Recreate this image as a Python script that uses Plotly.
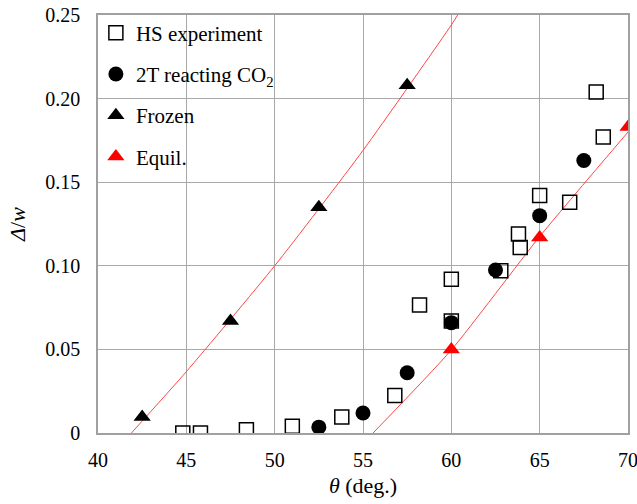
import plotly.graph_objects as go

# Data
hs_theta = [44.8, 45.8, 48.4, 51.0, 53.8, 56.8, 58.2, 60.0, 60.0, 62.8, 63.8, 63.9, 65.0, 66.7, 68.2, 68.6]
hs_delta = [0.0, 0.0, 0.002, 0.004, 0.0095, 0.0225, 0.0765, 0.092, 0.067, 0.097, 0.119, 0.111, 0.142, 0.138, 0.204, 0.177]

tt_theta = [52.5, 55.0, 57.5, 60.0, 62.5, 65.0, 67.5]
tt_delta = [0.0035, 0.012, 0.036, 0.066, 0.0975, 0.130, 0.163]

frozen_theta = [42.5, 47.5, 52.5, 57.5]
frozen_delta = [0.0095, 0.067, 0.135, 0.208]

equil_theta = [60.0, 65.0, 70.0]
equil_delta = [0.05, 0.117, 0.183]

frozen_fit_theta = [41.89, 45.0, 50.0, 55.0, 60.0, 60.36]
frozen_fit_delta = [0.0, 0.0367, 0.100, 0.169, 0.244, 0.25]

equil_fit_theta = [55.57, 60.0, 65.0, 70.0]
equil_fit_delta = [0.0, 0.0497, 0.1175, 0.180]

y_tickvals = [0, 0.05, 0.10, 0.15, 0.20, 0.25]
y_ticktext = ["0", "0.05", "0.10", "0.15", "0.20", "0.25"]
x_tickvals = [40, 45, 50, 55, 60, 65, 70]

FONT = "Liberation Serif"
RED = "rgb(255,70,70)"

fig = go.Figure()

fig.add_trace(go.Scatter(x=frozen_fit_theta, y=frozen_fit_delta, mode="lines",
                         line=dict(color=RED, width=1, shape="spline", smoothing=0.6),
                         showlegend=False, hoverinfo="skip"))
fig.add_trace(go.Scatter(x=equil_fit_theta, y=equil_fit_delta, mode="lines",
                         line=dict(color=RED, width=1, shape="spline", smoothing=0.6),
                         showlegend=False, hoverinfo="skip"))

fig.add_trace(go.Scatter(x=hs_theta, y=hs_delta, mode="markers", name="HS experiment",
                         legendgroup="a",
                         marker=dict(symbol="square-open", size=14, color="black",
                                     line=dict(color="black", width=1.5))))
fig.add_trace(go.Scatter(x=tt_theta, y=tt_delta, mode="markers",
                         name="2T reacting CO<sub>2</sub>", legendgroup="b",
                         marker=dict(symbol="circle", size=15, color="black")))
fig.add_trace(go.Scatter(x=frozen_theta, y=frozen_delta, mode="markers", name="Frozen",
                         legendgroup="c",
                         marker=dict(symbol="triangle-up", size=15, color="black")))
fig.add_trace(go.Scatter(x=equil_theta, y=equil_delta, mode="markers", name="Equil.",
                         legendgroup="d",
                         marker=dict(symbol="triangle-up", size=15, color="red")))

axis_common = dict(showgrid=True, gridcolor="#a8a8a8", gridwidth=1,
                   showline=True, linecolor="#a0a0a0", linewidth=1.5, mirror=True,
                   zeroline=False, ticks="outside", tickcolor="rgba(0,0,0,0)",
                   automargin=False, ticklabeloverflow="allow",
                   tickfont=dict(family=FONT, size=20, color="black"))

fig.update_xaxes(range=[40, 70], tickvals=x_tickvals, ticklen=8,
                 title=dict(text="<i>θ</i> (deg.)",
                            font=dict(family=FONT, size=22, color="black"), standoff=8),
                 **axis_common)
fig.update_yaxes(range=[0, 0.25], tickvals=y_tickvals, ticktext=y_ticktext, ticklen=12,
                 title=dict(text="<i>Δ</i>/<i>w</i>",
                            font=dict(family=FONT, size=22, color="black"), standoff=14),
                 **axis_common)

fig.update_layout(
    width=637, height=504,
    margin=dict(l=98, r=9, t=15, b=71),
    paper_bgcolor="white", plot_bgcolor="white",
    font=dict(family=FONT, color="black"),
    legend=dict(x=-0.004, y=1.006, xanchor="left", yanchor="top",
                bgcolor="rgba(0,0,0,0)", borderwidth=0,
                font=dict(family=FONT, size=21, color="black"),
                traceorder="grouped", tracegroupgap=11,
                itemwidth=30),
)

fig.write_html("out.html")
